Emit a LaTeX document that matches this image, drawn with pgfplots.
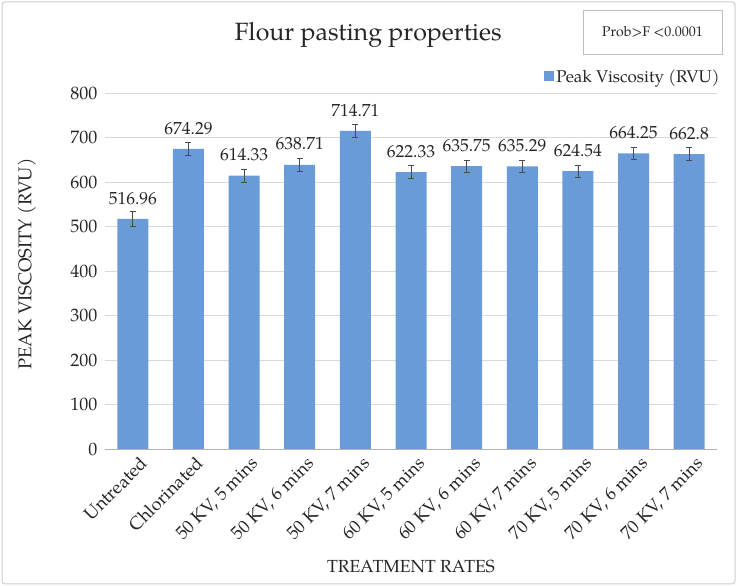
\documentclass[border=0pt]{standalone}
\usepackage{fontspec}
\setmainfont{TeX Gyre Pagella}
\usepackage{pgfplots}
\usepackage{pgfplotstable}
\pgfplotsset{compat=1.18}
\definecolor{barblue}{RGB}{104,155,216}
\definecolor{gridgray}{RGB}{217,217,217}
\definecolor{txt}{RGB}{38,38,38}
\pgfplotstableread{
x y err lab
0 516.96 16 516.96
1 674.29 15 674.29
2 614.33 14 614.33
3 638.71 15 638.71
4 714.71 15 714.71
5 622.33 14 622.33
6 635.75 14 635.75
7 635.29 14 635.29
8 624.54 14 624.54
9 664.25 13 664.25
10 662.8 15 662.8
}\datatable
\begin{document}
\begin{tikzpicture}
\useasboundingbox (0pt,0pt) rectangle (737pt,586pt);
\draw[rounded corners=3pt, draw=gray!40, line width=1pt] (2pt,2pt) rectangle (735pt,584pt);
\begin{axis}[
  at={(105pt,137pt)}, anchor=south west,
  scale only axis, width=612pt, height=356pt,
  xmin=-0.5, xmax=10.5, ymin=0, ymax=800,
  ytick={0,100,...,800},
  xtick={0,...,10},
  xticklabels={Untreated,Chlorinated,{50 KV, 5 mins},{50 KV, 6 mins},{50 KV, 7 mins},{60 KV, 5 mins},{60 KV, 6 mins},{60 KV, 7 mins},{70 KV, 5 mins},{70 KV, 6 mins},{70 KV, 7 mins}},
  x tick label style={rotate=45, anchor=north east, font=\fontsize{18}{20}\selectfont, text=txt, inner sep=1pt, xshift=1pt, yshift=-8pt},
  y tick label style={font=\fontsize{18}{20}\selectfont, text=txt, xshift=-4pt},
  /pgf/number format/assume math mode=true,
  major tick length=0pt,
  axis line style={draw=none},
  ymajorgrids, grid style={gridgray, line width=0.8pt},
  title={Flour pasting properties},
  title style={at={(0.43,1.145)}, anchor=center, font=\fontsize{25}{28}\selectfont, text=txt},
  xlabel={TREATMENT RATES},
  xlabel style={at={(0.5,-0.329)}, anchor=center, font=\fontsize{17.5}{20}\selectfont, text=txt},
  ylabel={PEAK VISCOSITY (RVU)},
  ylabel style={at={(-0.128,0.52)}, anchor=center, font=\fontsize{18.5}{20}\selectfont, text=txt},
  legend style={at={(1.008,1.02)}, anchor=south east, draw=none, fill=none, font=\fontsize{17}{19}\selectfont, text=txt, inner sep=0pt},
  legend image code/.code={\fill[barblue] (0cm,-4.5pt) rectangle (10pt,5.5pt);},
  clip=false,
]
\addplot[ybar, bar width=31pt, fill=barblue, draw=none,
  error bars/.cd, y dir=both, y explicit,
  error bar style={line width=0.7pt, black!70},
  error mark options={rotate=90, mark size=3pt, line width=0.7pt, black!70}]
  table[x=x, y=y, y error=err] {\datatable};
\addlegendentry{Peak Viscosity (RVU)}
\addplot[only marks, mark=none,
  nodes near coords, point meta=explicit symbolic,
  every node near coord/.append style={anchor=south, yshift=11pt, font=\fontsize{17.5}{19}\selectfont, text=txt}]
  table[x=x, y=y, meta=lab] {\datatable};
\draw[gray!60, line width=0.8pt] (axis cs:-0.5,0) -- (axis cs:10.5,0);
\end{axis}
\node[draw=gray!50, line width=0.8pt, minimum width=139pt, minimum height=44pt, font=\fontsize{14}{16}\selectfont, text=txt] at (652.5pt,554pt) {Prob>F <0.0001};
\end{tikzpicture}
\end{document}
